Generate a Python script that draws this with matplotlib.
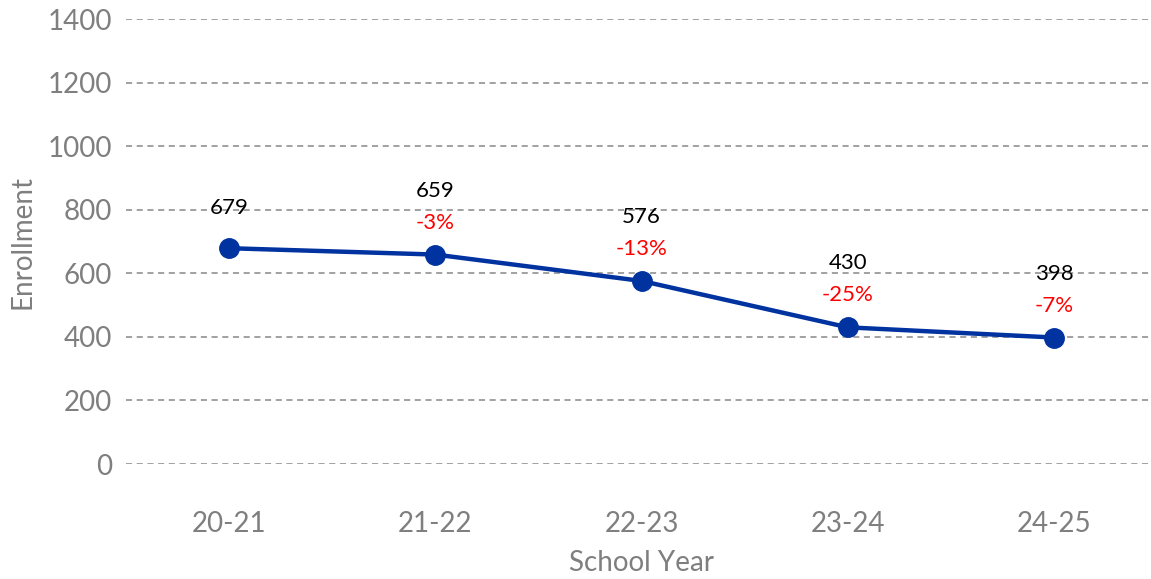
import matplotlib
matplotlib.use('Agg')
from matplotlib import pyplot as plt

years = ['20-21', '21-22', '22-23', '23-24', '24-25']
enrollment = [679, 659, 576, 430, 398]
pct_change = ['', '-3%', '-13%', '-25%', '-7%']

GRAY = '#7f7f7f'
BLUE = '#0033a0'

plt.rcParams['font.family'] = ['Lato', 'DejaVu Sans']


def main():
    fig = plt.figure(figsize=(11.51, 5.79), dpi=100)
    ax = fig.add_axes([0.1095, 0.1986, 0.8958, 0.7685])

    x = list(range(len(years)))
    ax.plot(x, enrollment, color=BLUE, linewidth=3.2, marker='o',
            markersize=14, zorder=3, clip_on=False)

    # value labels + percent change
    for i, (val, pct) in enumerate(zip(enrollment, pct_change)):
        if pct:
            ax.annotate(str(val), (i, val), xytext=(0, 46), textcoords='offset points',
                        ha='center', va='center', fontsize=16, color='black')
            ax.annotate(pct, (i, val), xytext=(0, 23), textcoords='offset points',
                        ha='center', va='center', fontsize=16, color='red')
        else:
            ax.annotate(str(val), (i, val), xytext=(0, 29), textcoords='offset points',
                        ha='center', va='center', fontsize=16, color='black')

    ax.set_xlim(-0.5, len(years) - 0.5)
    ax.set_ylim(0, 1400)
    ax.set_yticks(range(0, 1401, 200))
    ax.set_xticks(x)
    ax.set_xticklabels(years)

    ax.yaxis.grid(True, linestyle=(0, (4, 3)), color='#888888', linewidth=1.1)
    ax.set_axisbelow(True)
    for s in ax.spines.values():
        s.set_visible(False)

    ax.tick_params(axis='both', length=0, labelsize=20, labelcolor=GRAY)
    ax.tick_params(axis='x', pad=34)
    ax.tick_params(axis='y', pad=10)

    ax.set_xlabel('School Year', fontsize=20, color=GRAY, labelpad=9)
    ax.set_ylabel('Enrollment', fontsize=20, color=GRAY, labelpad=9)

    fig.savefig('out.png', dpi=100)


if __name__ == '__main__':
    main()
